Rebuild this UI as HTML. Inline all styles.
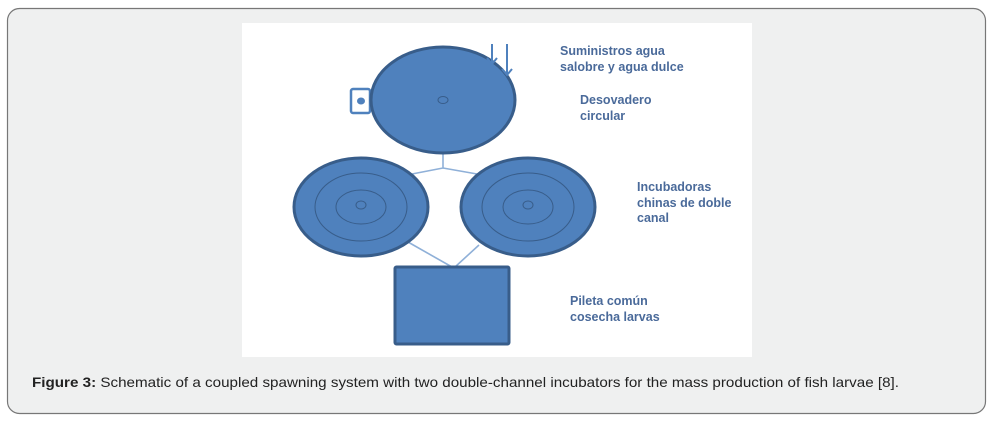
<!DOCTYPE html>
<html><head><meta charset="utf-8"><style>
html,body{margin:0;padding:0;background:#fff;width:996px;height:422px;overflow:hidden}
svg{display:block}
</style></head><body>
<svg width="996" height="422" viewBox="0 0 996 422" xmlns="http://www.w3.org/2000/svg">
<rect x="7.5" y="8.5" width="978" height="405" rx="12" fill="#eff0f0" stroke="#777" stroke-width="1.2"/>
<rect x="242" y="23" width="510" height="334" fill="#fff"/>
<g stroke="#8fb0d8" stroke-width="1.6" fill="none">
<polyline points="443,154 443,168 412,174"/>
<line x1="443" y1="168" x2="477" y2="174"/>
<line x1="408" y1="242" x2="452" y2="267"/>
<line x1="479" y1="245" x2="455" y2="267"/>
</g>
<rect x="351" y="89" width="19" height="24" rx="2" fill="#fff" stroke="#4f81bd" stroke-width="2.5"/>
<ellipse cx="361" cy="101" rx="4" ry="3.5" fill="#4f81bd"/>
<ellipse cx="443" cy="100" rx="72" ry="53" fill="#4f81bd" stroke="#385d8a" stroke-width="3"/>
<ellipse cx="443" cy="100" rx="5" ry="3.5" fill="none" stroke="#385d8a" stroke-width="1"/>
<g stroke="#4f81bd" stroke-width="2" fill="none">
<line x1="492" y1="44" x2="492" y2="64"/><polyline points="487,58 492,64 497,58"/>
<line x1="507" y1="44" x2="507" y2="75"/><polyline points="502,69 507,75 512,69"/>
</g>
<g fill="#4f81bd" stroke="#385d8a">
<ellipse cx="361" cy="207" rx="67" ry="49" stroke-width="3"/>
<ellipse cx="528" cy="207" rx="67" ry="49" stroke-width="3"/>
</g>
<g fill="none" stroke="#385d8a" stroke-width="1">
<ellipse cx="361" cy="207" rx="46" ry="34"/><ellipse cx="361" cy="207" rx="25" ry="17"/><ellipse cx="361" cy="205" rx="5" ry="4"/>
<ellipse cx="528" cy="207" rx="46" ry="34"/><ellipse cx="528" cy="207" rx="25" ry="17"/><ellipse cx="528" cy="205" rx="5" ry="4"/>
</g>
<rect x="395" y="267" width="114" height="77" rx="1.5" fill="#4f81bd" stroke="#385d8a" stroke-width="3"/>
<g font-family="Liberation Sans, sans-serif" font-size="12.5" font-weight="bold" fill="#4a6a9a">
<text x="560" y="55">Suministros agua</text>
<text x="560" y="71">salobre y agua dulce</text>
<text x="580" y="104">Desovadero</text>
<text x="580" y="120">circular</text>
<text x="637" y="191">Incubadoras</text>
<text x="637" y="207">chinas de doble</text>
<text x="637" y="222">canal</text>
<text x="570" y="305">Pileta común</text>
<text x="570" y="321">cosecha larvas</text>
</g>
<text x="32" y="387" font-family="Liberation Sans, sans-serif" font-size="14" fill="#222" textLength="867" lengthAdjust="spacingAndGlyphs"><tspan font-weight="bold">Figure 3:</tspan> Schematic of a coupled spawning system with two double-channel incubators for the mass production of fish larvae [8].</text>
</svg>
</body></html>
